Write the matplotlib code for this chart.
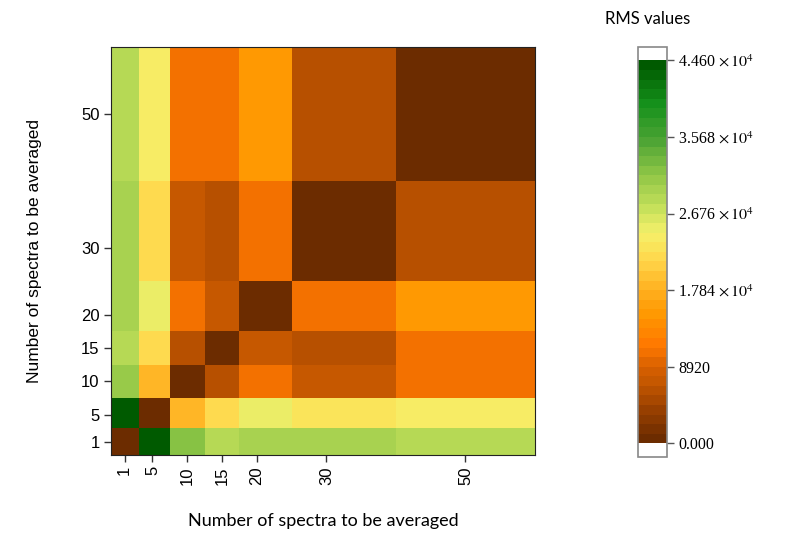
import numpy as np
import matplotlib
matplotlib.use("Agg")
import matplotlib.pyplot as plt
from matplotlib.colors import LinearSegmentedColormap, ListedColormap, BoundaryNorm

plt.rcParams['mathtext.fontset'] = 'stix'

# numero de espectros promediados (ejes x e y)
n_spectra = [1, 5, 10, 15, 20, 30, 50]

# valores RMS, filas = eje y, columnas = eje x
rms = np.array([
    [0,     44500, 31500, 28000, 29500, 29500, 28500],   # y = 1
    [44500, 0,     18000, 22000, 25000, 22500, 24000],   # y = 5
    [31000, 18000, 0,     6500,  11000, 7500,  11000],   # y = 10
    [28500, 21500, 6500,  0,     7500,  6000,  11000],   # y = 15
    [29500, 25000, 11000, 7500,  0,     11000, 14500],   # y = 20
    [30000, 22000, 7500,  6000,  11000, 0,     6000],    # y = 30
    [28500, 24500, 11000, 11000, 14500, 6000,  0],       # y = 50
])

cbar_ticks = [0, 8920, 17840, 26760, 35680, 44600]
cbar_labels = ['0.000', '8920', '1.784 $\\times\\,10^4$', '2.676 $\\times\\,10^4$',
               '3.568 $\\times\\,10^4$', '4.460 $\\times\\,10^4$']

# paleta marron -> naranja -> amarillo -> verde
anchors = [(0.00, '#6c2c00'), (0.08, '#9a4000'), (0.14, '#c05500'),
           (0.19, '#d86000'), (0.25, '#ff7800'), (0.33, '#ff9800'),
           (0.40, '#ffb020'), (0.48, '#ffd84c'), (0.55, '#f5f06a'),
           (0.62, '#c4e05a'), (0.70, '#94c848'), (0.80, '#4ca434'),
           (0.90, '#14901a'), (1.00, '#005a00')]
base = LinearSegmentedColormap.from_list('rms', anchors)
nlev = 40
cmap = ListedColormap(base(np.linspace(0, 1, nlev)))
cmap.set_over('white')
cmap.set_under('white')
bounds = np.linspace(0, 44600, nlev + 1)
norm = BoundaryNorm(bounds, cmap.N)

fig = plt.figure(figsize=(7.87, 5.37), dpi=100)
ax = fig.add_axes([0.1407, 0.1527, 0.5391, 0.7592])

mesh = ax.pcolormesh(n_spectra, n_spectra, rms, cmap=cmap, norm=norm, shading='nearest')
ax.set_xlim(-1, 60)
ax.set_ylim(-1, 60)

ax.set_xticks(n_spectra)
ax.set_yticks(n_spectra)
ax.set_xticklabels([str(v) for v in n_spectra], rotation=90, family='Liberation Sans', fontsize=12)
ax.set_yticklabels([str(v) for v in n_spectra], family='Liberation Sans', fontsize=12)
ax.tick_params(direction='out', length=5, width=1, color='#333333', pad=3)
for s in ax.spines.values():
    s.set_linewidth(0.8)
    s.set_color('#222222')

ax.set_xlabel('Number of spectra to be averaged', family='Lato', fontsize=13, labelpad=20)
ax.set_ylabel('Number of spectra to be averaged', family='Liberation Sans', fontsize=12.5, labelpad=28)

cax = fig.add_axes([0.8107, 0.149, 0.0368, 0.764])
cb = fig.colorbar(mesh, cax=cax, extend='both', extendrect=True, extendfrac=0.036,
                  ticks=cbar_ticks, spacing='proportional')
cb.ax.set_yticklabels(cbar_labels, family='Liberation Serif', fontsize=11.5)
cb.ax.tick_params(direction='out', length=5, width=1, color='#555555', pad=3)
cb.outline.set_edgecolor('#888888')
cb.outline.set_linewidth(1.2)
cb.ax.minorticks_off()
fig.text(0.823, 0.965, 'RMS values', family='Lato', fontsize=12, ha='center', va='center')

fig.savefig('out.png', dpi=100)
